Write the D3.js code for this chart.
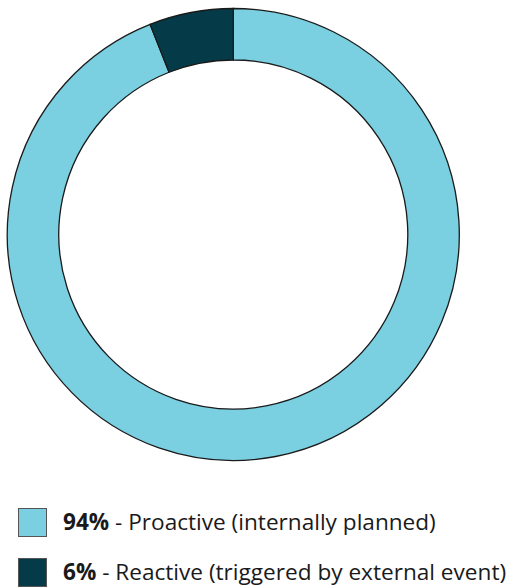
<!DOCTYPE html>
<html><head><meta charset="utf-8">
<script src="https://cdn.jsdelivr.net/npm/d3@7"></script>
<style>body{margin:0;background:#fff;}svg{display:block;}</style>
</head><body>
<script>
const categories = ["Proactive (internally planned)", "Reactive (triggered by external event)"];
const values = [94, 6];
const labels = ["94%", "6%"];
const colors = ["#7acfe0", "#053b48"];

const W = 508, H = 587;
const svg = d3.select("body").append("svg").attr("width", W).attr("height", H);
const cx = 233.3, cy = 234.5, rOuter = 226, rInner = 174.5;

const pie = d3.pie().sort(null).value(d => d)(values);
const arc = d3.arc().innerRadius(rInner).outerRadius(rOuter);
svg.append("g").attr("transform", `translate(${cx},${cy})`)
  .selectAll("path").data(pie).join("path")
  .attr("d", arc)
  .attr("fill", (d, i) => colors[i])
  .attr("stroke", "#1a1a1a").attr("stroke-width", 1.3);

const leg = svg.append("g");
const rowY = [508.5, 558.5];
categories.forEach((c, i) => {
  leg.append("rect").attr("x", 18.5).attr("y", rowY[i]).attr("width", 28).attr("height", 28)
    .attr("fill", colors[i]).attr("stroke", "#555").attr("stroke-width", 1);
  const t = leg.append("text").attr("x", 63).attr("y", rowY[i] + 21)
    .attr("font-family", "'Open Sans', sans-serif").attr("font-size", 22.6).attr("fill", "#1a1a1a");
  t.append("tspan").attr("font-weight", "bold").text(labels[i]);
  t.append("tspan").text(" - " + c);
});
</script>
</body></html>
